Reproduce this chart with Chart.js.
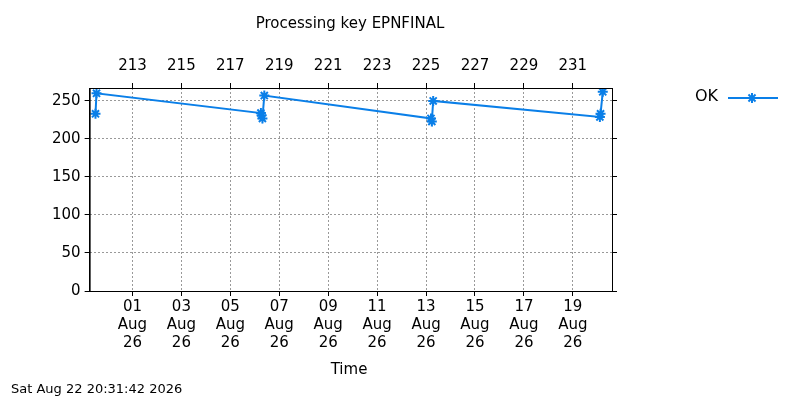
<!DOCTYPE html>
<html>
<head>
<meta charset="utf-8">
<script src="https://cdn.jsdelivr.net/npm/chart.js@4/dist/chart.umd.min.js"></script>
<style>
  body { margin: 0; background: #fff; }
  #wrap { width: 800px; height: 400px; }
</style>
</head>
<body>
<div id="wrap"><canvas id="c"></canvas></div>
<script>
// times (UTC) and values
const times = [
  "2026-07-30T11:45", "2026-07-30T12:45",
  "2026-08-06T06:00", "2026-08-06T06:40", "2026-08-06T07:30", "2026-08-06T09:20",
  "2026-08-13T04:50", "2026-08-13T05:40", "2026-08-13T07:00",
  "2026-08-20T02:30", "2026-08-20T03:10", "2026-08-20T05:20"
];
const okValues = [233, 260, 234, 231, 227, 257, 227, 223, 250, 229, 233, 262];
const bottomTicks = [0, 2, 4, 6, 8, 10, 12, 14, 16, 18]; // days after 01 Aug
const yTicks = [0, 50, 100, 150, 200, 250];

const base = Date.UTC(2026, 7, 1);
const pts = times.map((t, i) => ({ x: (Date.parse(t + "Z") - base) / 86400000, y: okValues[i] }));
const xMin = -1.75, xMax = 19.6;
const FONT = "DejaVu Sans";
const blue = "#0a7fe8";

function dayLabel(v) {
  const d = new Date(base + v * 86400000);
  return [String(d.getUTCDate()).padStart(2, "0"), "Aug", "26"];
}

const extras = {
  id: "extras",
  afterDraw(chart) {
    const c = chart.ctx, a = chart.chartArea;
    c.save();
    c.fillStyle = "#000";
    c.textAlign = "center";
    c.textBaseline = "middle";
    c.font = "15px " + FONT;
    c.fillText("Processing key EPNFINAL", 350, 24);
    c.fillText("Time", 349, 370);
    c.font = "16px " + FONT;
    c.textAlign = "right";
    c.fillText("OK", 718, 97);
    c.font = "13px " + FONT;
    c.textAlign = "left";
    c.fillText("Sat Aug 22 20:31:42 2026", 11, 390);
    // legend line + marker
    c.strokeStyle = blue;
    c.lineWidth = 2;
    c.beginPath(); c.moveTo(728, 98); c.lineTo(778, 98); c.stroke();
    Chart.helpers.drawPoint(c, { pointStyle: "star", radius: 5, borderWidth: 2 }, 752, 98);
    // frame
    c.strokeStyle = "#000";
    c.lineWidth = 1;
    c.strokeRect(a.left + 0.5, a.top + 0.5, a.right - a.left, a.bottom - a.top);
    c.restore();
  }
};

const gridOpts = { color: "#999", tickColor: "#000", tickLength: 5 };
const dashBorder = { display: true, color: "#000", dash: [2, 2] };

new Chart(document.getElementById("c"), {
  type: "line",
  data: {
    datasets: [{
      label: "OK",
      data: pts,
      borderColor: blue,
      backgroundColor: blue,
      borderWidth: 2,
      pointStyle: "star",
      pointRadius: 5,
      pointBorderWidth: 2,
      fill: false,
      tension: 0
    }]
  },
  options: {
    responsive: true,
    maintainAspectRatio: false,
    animation: false,
    layout: { padding: { top: 49, right: 183, left: 48, bottom: 46 } },
    plugins: { legend: { display: false }, tooltip: { enabled: false } },
    scales: {
      x: {
        type: "linear", position: "bottom", min: xMin, max: xMax,
        afterBuildTicks: ax => { ax.ticks = bottomTicks.map(v => ({ value: v })); },
        ticks: { callback: v => dayLabel(v), color: "#000", font: { family: FONT, size: 15 }, maxRotation: 0, autoSkip: false, padding: 2 },
        grid: gridOpts,
        border: dashBorder
      },
      xTop: {
        type: "linear", position: "top", min: xMin, max: xMax,
        afterBuildTicks: ax => { ax.ticks = bottomTicks.map(v => ({ value: v })); },
        ticks: { callback: v => String(213 + v), color: "#000", font: { family: FONT, size: 15 }, maxRotation: 0, autoSkip: false, padding: 8 },
        grid: { drawOnChartArea: false, tickColor: "#000", tickLength: 5 },
        border: { display: false }
      },
      y: {
        min: 0, max: 267,
        afterBuildTicks: ax => { ax.ticks = yTicks.map(v => ({ value: v })); },
        ticks: { color: "#000", font: { family: FONT, size: 15 }, padding: 4 },
        grid: gridOpts,
        border: dashBorder
      },
      yRight: {
        position: "right", min: 0, max: 267,
        afterBuildTicks: ax => { ax.ticks = yTicks.map(v => ({ value: v })); },
        ticks: { display: false },
        grid: { drawOnChartArea: false, tickColor: "#000", tickLength: 5 },
        border: { display: false }
      }
    }
  },
  plugins: [extras]
});
</script>
</body>
</html>
